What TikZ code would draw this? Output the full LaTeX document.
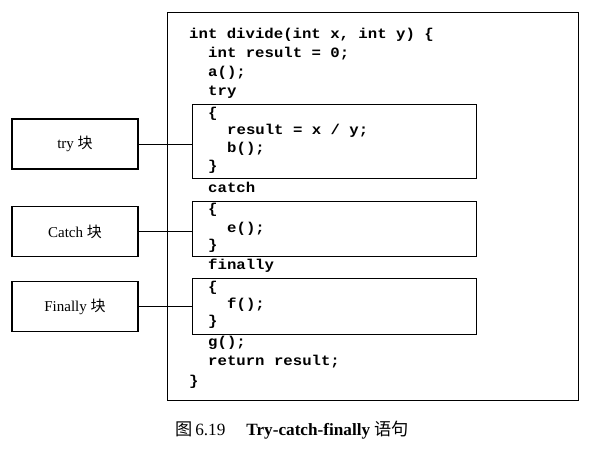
\documentclass[tikz,border=0pt]{standalone}
\usepackage{fontspec}
\setmainfont{Liberation Serif}
\newfontfamily\codefont[FakeStretch=1.1]{Liberation Mono}
\newfontfamily\cjk{Noto Sans CJK SC}
\begin{document}
\begin{tikzpicture}[x=1pt,y=-1pt,
  codeline/.style={anchor=west, inner sep=0pt, text height=10pt, text depth=3pt,
    font=\fontsize{14.25}{17}\selectfont\codefont\bfseries},
  labelbox/.style={draw, line width=1.1pt, minimum width=126pt, minimum height=50pt,
    inner sep=0pt, font=\fontsize{15}{17}\selectfont},
  blockbox/.style={draw, line width=1.4pt, anchor=north west, inner sep=0pt},
  link/.style={draw, line width=0.7pt}]
\useasboundingbox (0,0) rectangle (596,452);
% outer frame
\node[draw, line width=0.9pt, anchor=north west, inner sep=0pt,
  minimum width=411pt, minimum height=388pt] (outer) at (167,12) {};
% inner blocks
\node[blockbox, minimum width=284pt, minimum height=74pt] (trybox) at (192,104) {};
\node[blockbox, minimum width=284pt, minimum height=55pt] (catchbox) at (192,201) {};
\node[blockbox, minimum width=284pt, minimum height=56pt] (finbox) at (192,278) {};
% code
\node[codeline] (c1) at (189,35) {int divide(int x, int y) \{};
\node[codeline] (c2) at (208,54) {int result = 0;};
\node[codeline] (c3) at (208,73) {a();};
\node[codeline] (c4) at (208,92) {try};
\node[codeline] (c5) at (208,114) {\{};
\node[codeline] (c6) at (227,131) {result = x / y;};
\node[codeline] (c7) at (227,149) {b();};
\node[codeline] (c8) at (208,167) {\}};
\node[codeline] (c9) at (208,189) {catch};
\node[codeline] (c10) at (208,210) {\{};
\node[codeline] (c11) at (227,229) {e();};
\node[codeline] (c12) at (208,246) {\}};
\node[codeline] (c13) at (208,266) {finally};
\node[codeline] (c14) at (208,288) {\{};
\node[codeline] (c15) at (227,305) {f();};
\node[codeline] (c16) at (208,322) {\}};
\node[codeline] (c17) at (208,343) {g();};
\node[codeline] (c18) at (208,362) {return result;};
\node[codeline] (c19) at (189,382) {\}};
% labels
\node[labelbox] (tryl) at (75,144) {try {\cjk 块}};
\node[labelbox] (catchl) at (75,231.5) {Catch {\cjk 块}};
\node[labelbox] (finl) at (75,306.5) {Finally {\cjk 块}};
% connectors
\draw[link] (tryl.east) -- (tryl.east -| trybox.west);
\draw[link] (catchl.east) -- (catchl.east -| catchbox.west);
\draw[link] (finl.east) -- (finl.east -| finbox.west);
% caption
\node[inner sep=0pt, anchor=west, font=\fontsize{17.2}{19}\selectfont] (cap) at (175,430)
  {{\cjk 图}\,6.19\hspace{21pt}\textbf{Try-catch-finally} {\cjk 语句}};
\end{tikzpicture}
\end{document}
